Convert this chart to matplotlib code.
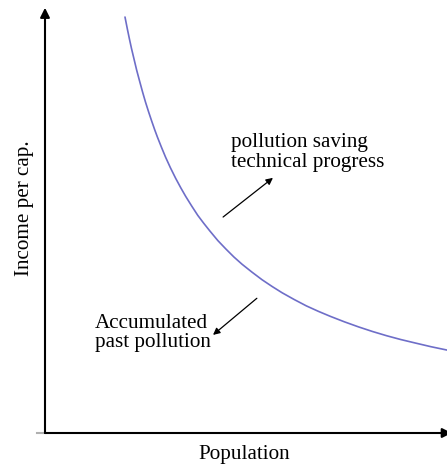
import matplotlib.pyplot as plt
import numpy as np

# curve (population, income per capita), arbitrary units 0-10
population = [1.99, 2.05, 2.1, 2.15, 2.2, 2.28, 2.35, 2.43, 2.5, 2.58, 2.65, 2.73,
              2.8, 2.9, 3.0, 3.12, 3.25, 3.38, 3.5, 3.65, 3.8, 3.95,
              4.1, 4.3, 4.5, 4.7, 4.9, 5.15, 5.4, 5.65, 5.9, 6.2, 6.5, 6.8,
              7.1, 7.45, 7.8, 8.15, 8.5, 8.85, 9.2, 9.6, 10.0]
income = [9.88, 9.59, 9.36, 9.14, 8.94, 8.62, 8.37, 8.09, 7.86, 7.62, 7.42, 7.20,
          7.02, 6.78, 6.55, 6.30, 6.05, 5.82, 5.62, 5.39, 5.17, 4.98,
          4.80, 4.57, 4.37, 4.18, 4.01, 3.82, 3.64, 3.48, 3.33, 3.17, 3.02, 2.89,
          2.77, 2.64, 2.52, 2.41, 2.31, 2.22, 2.14, 2.05, 1.97]

label_up = "pollution saving\ntechnical progress"
label_down = "Accumulated\npast pollution"

plt.rcParams['font.family'] = ['Liberation Serif', 'DejaVu Serif']

fig = plt.figure(figsize=(4.47, 4.68), dpi=100)
ax = fig.add_axes([45/447, 1 - 433/468, 402/447, 421/468])
ax.set_xlim(0, 10)
ax.set_ylim(0, 10)
ax.axis('off')

ax.plot(population, income, color='#6e6ec8', lw=1.2, solid_capstyle='round')

# axes drawn as arrows
ax.annotate('', xy=(0, 1.01), xytext=(0, 0), xycoords='axes fraction',
            arrowprops=dict(arrowstyle='-|>', color='black', lw=1.5,
                            mutation_scale=14, shrinkA=0, shrinkB=0),
            annotation_clip=False)
ax.annotate('', xy=(1.012, 0), xytext=(0, 0), xycoords='axes fraction',
            arrowprops=dict(arrowstyle='-|>', color='black', lw=1.5,
                            mutation_scale=14, shrinkA=0, shrinkB=0),
            annotation_clip=False)
ax.plot([-0.02, 0], [0, 0], transform=ax.transAxes, color='#b0b0b0',
        lw=1.5, clip_on=False)

# direction arrows
ax.annotate('', xy=(5.67, 6.06), xytext=(4.43, 5.13),
            arrowprops=dict(arrowstyle='-|>', color='black', lw=0.9,
                            mutation_scale=10, shrinkA=0, shrinkB=0))
ax.annotate('', xy=(4.18, 2.33), xytext=(5.27, 3.20),
            arrowprops=dict(arrowstyle='-|>', color='black', lw=0.9,
                            mutation_scale=10, shrinkA=0, shrinkB=0))

ax.text(4.63, 6.66, label_up, fontsize=15.2, ha='left', va='center',
        linespacing=1.05)
ax.text(1.24, 2.375, label_down, fontsize=15.2, ha='left', va='center',
        linespacing=1.05)

fig.text(244/447, 1 - 455/468, "Population", fontsize=15.2,
         ha='center', va='center')
fig.text(25/447, 1 - 208/468, "Income per cap.", fontsize=15.2,
         ha='center', va='center', rotation=90)

fig.savefig('out.png', dpi=100)
